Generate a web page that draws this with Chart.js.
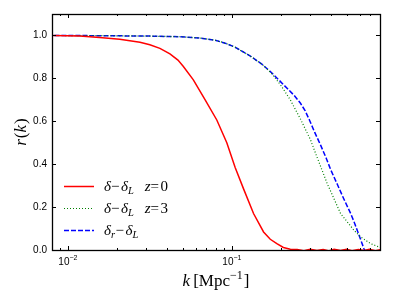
<!DOCTYPE html>
<html>
<head>
<meta charset="utf-8">
<script src="https://cdn.jsdelivr.net/npm/chart.js@4/dist/chart.umd.min.js"></script>
<style>
html, body { margin: 0; padding: 0; background: #fff; }
</style>
</head>
<body>
<canvas id="myChart" width="399" height="299"></canvas>
<script>
// k in Mpc^-1 and r(k)
let kRed = [0.0075, 0.0118, 0.0156, 0.0207, 0.0275, 0.0316, 0.0364, 0.0419, 0.0469, 0.0506, 0.0582, 0.0687, 0.0809, 0.0931, 0.1047, 0.1178, 0.1355, 0.156, 0.1714, 0.188, 0.206, 0.227, 0.25, 0.275, 0.30, 0.33, 0.36, 0.39, 0.42, 0.46, 0.50, 0.54, 0.59, 0.64, 0.69, 0.75, 0.82];
let rRed = [1.0, 0.998, 0.99, 0.982, 0.968, 0.957, 0.94, 0.914, 0.885, 0.855, 0.793, 0.70, 0.606, 0.50, 0.385, 0.285, 0.17, 0.084, 0.05, 0.03, 0.012, 0.004, 0.002, -0.003, 0.003, -0.002, 0.002, -0.004, 0.003, -0.002, 0.003, -0.003, 0.002, -0.002, 0.003, -0.003, 0.002];

let kGreen = [0.0075, 0.0156, 0.0316, 0.0483, 0.064, 0.0791, 0.091, 0.1047, 0.129, 0.153, 0.176, 0.20, 0.227, 0.262, 0.301, 0.324, 0.381, 0.46, 0.555, 0.61, 0.70, 0.79, 0.82];
let rGreen = [1.0, 0.999, 0.997, 0.994, 0.988, 0.978, 0.964, 0.945, 0.905, 0.865, 0.82, 0.765, 0.70, 0.61, 0.515, 0.45, 0.31, 0.17, 0.092, 0.061, 0.03, 0.014, 0.01];

let kBlue = [0.0075, 0.0156, 0.0316, 0.0483, 0.064, 0.0791, 0.091, 0.1047, 0.129, 0.153, 0.176, 0.217, 0.24, 0.262, 0.28, 0.297, 0.32, 0.347, 0.375, 0.40, 0.44, 0.48, 0.53, 0.56, 0.596, 0.638, 0.70, 0.82];
let rBlue = [1.0, 0.999, 0.997, 0.994, 0.988, 0.978, 0.964, 0.945, 0.905, 0.865, 0.824, 0.754, 0.72, 0.684, 0.648, 0.606, 0.548, 0.49, 0.43, 0.375, 0.305, 0.24, 0.17, 0.125, 0.069, 0.007, -0.06, -0.15];

let labels = ["δ−δ_L  z=0", "δ−δ_L  z=3", "δ_r−δ_L"];
let yTicks = [0, 0.2, 0.4, 0.6, 0.8, 1.0];
let xMajor = [0.01, 0.1];
let xMajorLabels = [["10", "−2"], ["10", "−1"]];
let xMinor = [0.008, 0.009, 0.02, 0.03, 0.04, 0.05, 0.06, 0.07, 0.08, 0.09, 0.2, 0.3, 0.4, 0.5, 0.6, 0.7];

function pts(ks, rs) {
  return ks.map((k, i) => ({ x: k, y: rs[i] }));
}

// draw a list of text runs side by side
function drawRuns(ctx, runs, x, y, align) {
  let total = 0;
  runs.forEach(r => {
    ctx.font = (r.italic ? "italic " : "") + r.size + "px 'Liberation Serif'";
    r.w = ctx.measureText(r.t).width + (r.gap || 0);
    total += r.w;
  });
  let cx = align == "center" ? x - total / 2 : x;
  ctx.textAlign = "left";
  ctx.textBaseline = "alphabetic";
  runs.forEach(r => {
    ctx.font = (r.italic ? "italic " : "") + r.size + "px 'Liberation Serif'";
    ctx.fillText(r.t, cx, y + (r.dy || 0));
    cx += r.w;
  });
}

// turn "δ_r−δ_L" into runs: letters italic, "_x" subscript
function parseLabel(str, size) {
  let runs = [];
  for (let i = 0; i < str.length; i++) {
    let c = str[i];
    if (c == "_") {
      i++;
      runs.push({ t: str[i], italic: true, size: size * 0.7, dy: size * 0.22, gap: 0.5 });
    } else if (c == " ") {
      runs.push({ t: " ", size: size, gap: 1.5 });
    } else {
      let letter = /[a-zA-Zα-ω]/.test(c);
      runs.push({ t: c, italic: letter, size: size, gap: letter ? 0 : 1.5 });
    }
  }
  return runs;
}

let decor = {
  id: "decor",
  afterDraw(chart) {
    let ctx = chart.ctx;
    let a = chart.chartArea;
    let xs = chart.scales.x, ys = chart.scales.y;
    ctx.save();
    ctx.strokeStyle = "#000";
    ctx.fillStyle = "#000";
    ctx.lineWidth = 1;
    // ticks pointing inward
    ctx.beginPath();
    yTicks.forEach(v => {
      let py = Math.round(ys.getPixelForValue(v)) + 0.5;
      ctx.moveTo(a.left, py); ctx.lineTo(a.left + 4, py);
      ctx.moveTo(a.right, py); ctx.lineTo(a.right - 4, py);
    });
    xMajor.forEach(v => {
      let px = Math.round(xs.getPixelForValue(v)) + 0.5;
      ctx.moveTo(px, a.bottom); ctx.lineTo(px, a.bottom - 4);
      ctx.moveTo(px, a.top); ctx.lineTo(px, a.top + 4);
    });
    xMinor.forEach(v => {
      let px = Math.round(xs.getPixelForValue(v)) + 0.5;
      ctx.moveTo(px, a.bottom); ctx.lineTo(px, a.bottom - 2);
      ctx.moveTo(px, a.top); ctx.lineTo(px, a.top + 2);
    });
    ctx.stroke();
    // frame
    ctx.lineWidth = 1.3;
    ctx.strokeRect(Math.round(a.left) + 0.5, Math.round(a.top) + 0.5, Math.round(a.right - a.left), Math.round(a.bottom - a.top));

    // x tick labels 10^-2, 10^-1
    xMajor.forEach((v, i) => {
      let px = xs.getPixelForValue(v);
      ctx.font = "10px 'Liberation Sans'";
      let w1 = ctx.measureText(xMajorLabels[i][0]).width;
      ctx.font = "7px 'Liberation Sans'";
      let w2 = ctx.measureText(xMajorLabels[i][1]).width;
      let x0 = px - (w1 + w2) / 2;
      ctx.textAlign = "left";
      ctx.textBaseline = "alphabetic";
      ctx.font = "10px 'Liberation Sans'";
      ctx.fillText(xMajorLabels[i][0], x0, a.bottom + 15);
      ctx.font = "7px 'Liberation Sans'";
      ctx.fillText(xMajorLabels[i][1], x0 + w1, a.bottom + 10);
    });

    // axis titles
    drawRuns(ctx, [
      { t: "k", italic: true, size: 17, gap: 3 },
      { t: "[Mpc", size: 17 },
      { t: "−1", size: 12, dy: -7, gap: 1 },
      { t: "]", size: 17 }
    ], (a.left + a.right) / 2, 286, "center");
    ctx.save();
    ctx.translate(26, (a.top + a.bottom) / 2);
    ctx.rotate(-Math.PI / 2);
    drawRuns(ctx, [
      { t: "r", italic: true, size: 17, gap: 1 },
      { t: "(", size: 17 },
      { t: "k", italic: true, size: 17, gap: 1 },
      { t: ")", size: 17 }
    ], 0, 0, "center");
    ctx.restore();

    // legend
    chart.data.datasets.forEach((ds, i) => {
      let ly = 186 + i * 22;
      ctx.save();
      ctx.strokeStyle = ds.borderColor;
      ctx.lineWidth = ds.borderWidth;
      ctx.setLineDash(ds.borderDash || []);
      ctx.beginPath();
      ctx.moveTo(64, ly + 0.5);
      ctx.lineTo(94, ly + 0.5);
      ctx.stroke();
      ctx.restore();
      drawRuns(ctx, parseLabel(ds.label, 15), 104, ly + 5, "left");
    });
    ctx.restore();
  }
};

let ctx = document.getElementById("myChart").getContext("2d");
let myChart = new Chart(ctx, {
  type: "line",
  data: {
    datasets: [
      { label: labels[0], data: pts(kRed, rRed), borderColor: "#ff0000", borderWidth: 1.5, borderDash: [] },
      { label: labels[1], data: pts(kGreen, rGreen), borderColor: "#008000", borderWidth: 1.2, borderDash: [1, 2] },
      { label: labels[2], data: pts(kBlue, rBlue), borderColor: "#0000ff", borderWidth: 1.5, borderDash: [5, 2] }
    ]
  },
  options: {
    responsive: false,
    animation: false,
    devicePixelRatio: 1,
    layout: { padding: { top: 14, right: 19, left: 0, bottom: 0 } },
    elements: { point: { radius: 0 }, line: { tension: 0 } },
    plugins: { legend: { display: false }, tooltip: { enabled: false } },
    scales: {
      x: {
        type: "logarithmic",
        min: 0.008,
        max: 0.8,
        grid: { display: false, drawTicks: false },
        border: { display: false },
        ticks: { display: false },
        afterFit: s => { s.height = 49; }
      },
      y: {
        type: "linear",
        min: 0,
        max: 1.1,
        grid: { display: false, drawTicks: false },
        border: { display: false },
        afterBuildTicks: s => { s.ticks = yTicks.map(v => ({ value: v })); },
        ticks: {
          color: "#000",
          padding: 5,
          font: { family: "'Liberation Sans'", size: 10 },
          callback: v => Number(v).toFixed(1)
        },
        afterFit: s => { s.width = 52; }
      }
    }
  },
  plugins: [decor]
});
</script>
</body>
</html>
